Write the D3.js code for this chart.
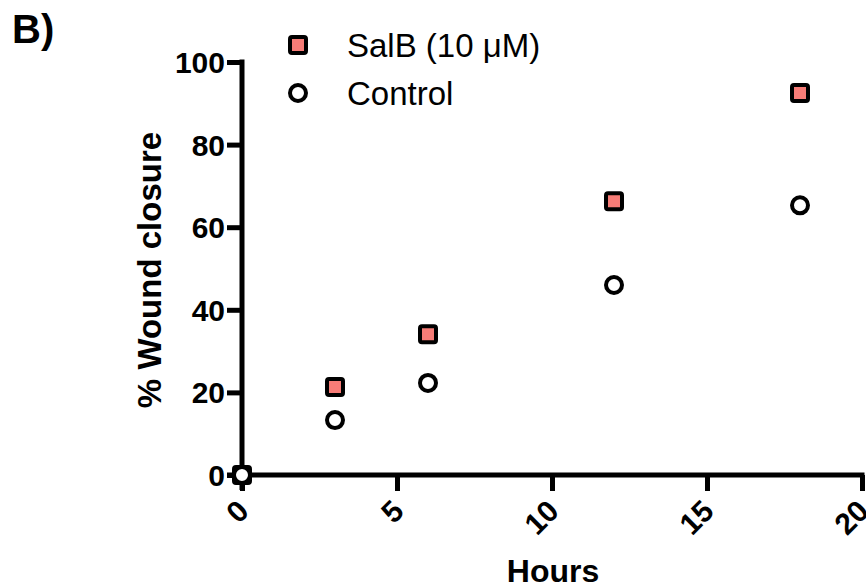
<!DOCTYPE html>
<html>
<head>
<meta charset="utf-8">
<script src="https://cdn.jsdelivr.net/npm/d3@7"></script>
<style>
  body { margin: 0; background: #fff; }
  svg text { font-family: "Liberation Sans", Arial, sans-serif; fill: #000; }
  .axis path, .axis line { stroke: #000; stroke-width: 5; }
  .axis text { font-size: 30px; font-weight: bold; }
</style>
</head>
<body>
<svg id="chart" width="866" height="588"></svg>
<script>
var hours = [0, 3, 6, 12, 18]
var salb = [0, 21.3, 34.1, 66.3, 92.5]
var control = [0, 13.3, 22.3, 46, 65.3]
var xTicks = [0, 5, 10, 15, 20]
var yTicks = [0, 20, 40, 60, 80, 100]
var seriesNames = ["SalB (10 μM)", "Control"]

var width = 866, height = 588
var margin = {top: 62, right: 4, bottom: 113, left: 242}

var svg = d3.select("#chart")

var xScale = d3.scaleLinear()
    .domain([0, 20])
    .range([margin.left, width - margin.right])
var yScale = d3.scaleLinear()
    .domain([0, 100])
    .range([height - margin.bottom, margin.top])

// x axis with rotated labels
var gx = svg.append("g")
    .attr("class", "axis")
    .attr("transform", "translate(0," + yScale(0) + ")")
    .call(d3.axisBottom(xScale).tickValues(xTicks).tickSize(16).tickSizeOuter(0))
gx.selectAll("text")
    .attr("x", 0).attr("y", 0).attr("dy", 0)
    .attr("text-anchor", "end")
    .attr("transform", "translate(8,38) rotate(-45)")

// y axis
var gy = svg.append("g")
    .attr("class", "axis")
    .attr("transform", "translate(" + xScale(0) + ",0)")
    .call(d3.axisLeft(yScale).tickValues(yTicks).tickSize(15).tickPadding(2).tickSizeOuter(0))
gy.selectAll("text").attr("dy", "0.35em")
gy.select(".domain").attr("d", "M0," + (yScale(0) + 15) + "V" + (yScale(100) - 2.5))
gx.select(".domain").attr("d", "M" + (xScale(0) - 15) + ",0H" + (xScale(20) + 2.5))

// axis titles
svg.append("text")
    .attr("transform", "translate(161,270) rotate(-90)")
    .attr("text-anchor", "middle")
    .style("font-size", "33px").style("font-weight", "bold")
    .text("% Wound closure")

svg.append("text")
    .attr("x", 553).attr("y", 582)
    .attr("text-anchor", "middle")
    .style("font-size", "32px").style("font-weight", "bold")
    .text("Hours")

svg.append("text")
    .attr("x", 12).attr("y", 43)
    .style("font-size", "40px").style("font-weight", "bold")
    .text("B)")

// SalB squares
svg.selectAll(".pt-salb")
    .data(hours.map((h, i) => ({h: h, v: salb[i]})))
    .enter()
    .append("rect")
    .attr("class", "pt-salb")
    .attr("x", d => xScale(d.h) - 8)
    .attr("y", d => yScale(d.v) - 8)
    .attr("width", 16).attr("height", 16)
    .attr("rx", 2)
    .attr("fill", "#f77c77")
    .attr("stroke", "#000")
    .attr("stroke-width", 4)

// Control circles
svg.selectAll(".pt-ctrl")
    .data(hours.map((h, i) => ({h: h, v: control[i]})))
    .enter()
    .append("circle")
    .attr("class", "pt-ctrl")
    .attr("cx", d => xScale(d.h))
    .attr("cy", d => yScale(d.v))
    .attr("r", 8)
    .attr("fill", "#fff")
    .attr("stroke", "#000")
    .attr("stroke-width", 4)

// legend
var legend = svg.append("g")
legend.append("rect")
    .attr("x", 290).attr("y", 37)
    .attr("width", 16).attr("height", 16).attr("rx", 2)
    .attr("fill", "#f77c77").attr("stroke", "#000").attr("stroke-width", 4)
legend.append("circle")
    .attr("cx", 298).attr("cy", 93).attr("r", 8)
    .attr("fill", "#fff").attr("stroke", "#000").attr("stroke-width", 4)
legend.selectAll(".leg-text")
    .data(seriesNames)
    .enter()
    .append("text")
    .attr("class", "leg-text")
    .attr("x", 347)
    .attr("y", (d, i) => 45 + i * 48)
    .attr("dy", "0.36em")
    .style("font-size", "33px")
    .text(d => d)
</script>
</body>
</html>
